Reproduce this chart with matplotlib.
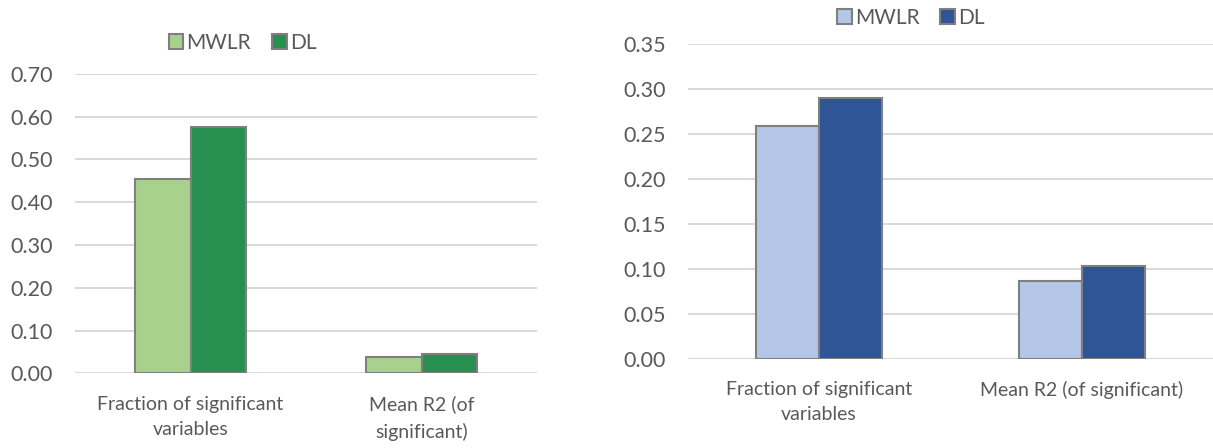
import matplotlib.pyplot as plt
import matplotlib.patches as mpatches
import numpy as np

plt.rcParams['font.family'] = ['Lato', 'DejaVu Sans']

series = ['MWLR', 'DL']

# left chart (green)
cats_left = ['Fraction of significant\nvariables', 'Mean R2 (of\nsignificant)']
mwlr_left = [0.454, 0.038]
dl_left = [0.575, 0.044]

# right chart (blue)
cats_right = ['Fraction of significant\nvariables', 'Mean R2 (of significant)']
mwlr_right = [0.258, 0.086]
dl_right = [0.290, 0.103]

txt = '#595959'
edge = '#7F7F7F'
grid = '#D9D9D9'


def draw(ax, cats, v1, v2, colors, ymax, step):
    x = np.arange(len(cats))
    w = 0.24
    ax.bar(x - w / 2, v1, w, color=colors[0], edgecolor=edge, linewidth=1.5, zorder=3)
    ax.bar(x + w / 2, v2, w, color=colors[1], edgecolor=edge, linewidth=1.5, zorder=3)
    ax.set_xlim(-0.5, len(cats) - 0.5)
    ax.set_ylim(0, ymax)
    ax.set_yticks(np.arange(0, ymax + step / 2, step))
    ax.yaxis.set_major_formatter(plt.FormatStrFormatter('%.2f'))
    ax.set_xticks(x)
    ax.set_xticklabels(cats, linespacing=1.6)
    ax.grid(axis='y', color=grid, linewidth=1.4, zorder=0)
    for s in ax.spines.values():
        s.set_visible(False)
    ax.tick_params(axis='y', length=0, pad=16, labelsize=15.5, labelcolor=txt)
    ax.tick_params(axis='x', length=0, pad=16, labelsize=14, labelcolor=txt)


fig = plt.figure(figsize=(12.13, 4.48), dpi=100)
ax1 = fig.add_axes([0.0618, 0.1667, 0.381, 0.6683])
ax2 = fig.add_axes([0.567, 0.1993, 0.433, 0.7032])

green = ['#A9D18E', '#279050']
blue = ['#B4C7E7', '#2F5597']
draw(ax1, cats_left, mwlr_left, dl_left, green, 0.70, 0.10)
draw(ax2, cats_right, mwlr_right, dl_right, blue, 0.35, 0.05)

for cols, pos in [(green, (0.20, 0.905)), (blue, (0.751, 0.96))]:
    handles = [mpatches.Patch(facecolor=c, edgecolor=edge, linewidth=1.5, label=l)
               for c, l in zip(cols, series)]
    fig.legend(handles=handles, loc='center', bbox_to_anchor=pos, ncol=2, frameon=False,
               fontsize=15, labelcolor=txt, handlelength=0.7, handleheight=0.7,
               handletextpad=0.15, columnspacing=1.0)

fig.savefig('out.png', dpi=100, facecolor='white')
